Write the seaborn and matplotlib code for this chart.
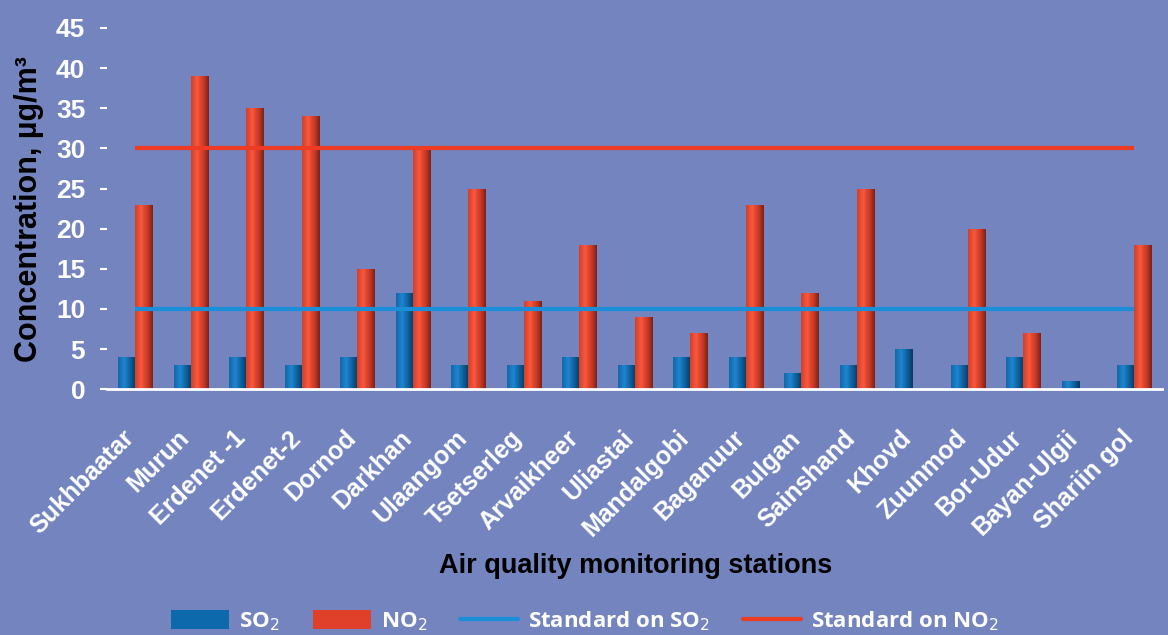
import numpy as np
import pandas as pd
import matplotlib
matplotlib.use("Agg")
import matplotlib.pyplot as plt
import seaborn as sns
from matplotlib.patches import Patch
from matplotlib.lines import Line2D

stations = ["Sukhbaatar", "Murun", "Erdenet -1", "Erdenet-2", "Dornod", "Darkhan",
            "Ulaangom", "Tsetserleg", "Arvaikheer", "Uliastai", "Mandalgobi",
            "Baganuur", "Bulgan", "Sainshand", "Khovd", "Zuunmod", "Bor-Udur",
            "Bayan-Ulgii", "Shariin gol"]
so2 = [4, 3, 4, 3, 4, 12, 3, 3, 4, 3, 4, 4, 2, 3, 5, 3, 4, 1, 3]
no2 = [23, 39, 35, 34, 15, 30, 25, 11, 18, 9, 7, 23, 12, 25, 0, 20, 7, 0, 18]
so2_standard = 10
no2_standard = 30
y_ticks = [0, 5, 10, 15, 20, 25, 30, 35, 40, 45]

BG = "#7484BF"
SO2_COLOR = "#0E69AC"
NO2_COLOR = "#E0402A"
SO2_LINE = "#1A8FD8"
NO2_LINE = "#EE3B24"

df = pd.DataFrame({
    "station": stations * 2,
    "value": so2 + no2,
    "pollutant": ["SO2"] * len(stations) + ["NO2"] * len(stations),
})

sns.set_theme(style="white")
plt.rcParams["font.family"] = ["Liberation Sans", "DejaVu Sans"]

fig = plt.figure(figsize=(11.68, 6.35), dpi=100, facecolor=BG)
ax = fig.add_axes([0.092, 0.387, 0.903, 0.569])
ax.set_facecolor(BG)

sns.barplot(data=df, x="station", y="value", hue="pollutant",
            palette={"SO2": SO2_COLOR, "NO2": NO2_COLOR},
            width=0.62, gap=0, saturation=1, legend=False, ax=ax,
            linewidth=0)


def shade(color):
    """Horizontal light-to-dark ramp giving bars a rounded look."""
    c = np.array(matplotlib.colors.to_rgb(color))
    t = np.linspace(0, 1, 64)
    light = np.clip(c * 1.15 + 0.05, 0, 1)
    dark = c * 0.55
    prof = np.where(t < 0.35, 0.6 + t / 0.35 * 0.4, 1 - (t - 0.35) / 0.65)
    rows = []
    for p in prof:
        rows.append(dark + (light - dark) * p if p > 0.6 else dark + (c - dark) * p / 0.6)
    return np.array(rows)[None, :, :]


for bar in list(ax.patches):
    h = bar.get_height()
    if h <= 0:
        continue
    x0 = bar.get_x()
    w = bar.get_width()
    img = shade(bar.get_facecolor())
    im = ax.imshow(img, extent=[x0, x0 + w, 0, h], aspect="auto",
                   zorder=bar.get_zorder() + 0.1, interpolation="bilinear")
    im.set_clip_path(bar)

n = len(stations)
ax.hlines(so2_standard, 0, n - 1, color=SO2_LINE, linewidth=3, zorder=5)
ax.hlines(no2_standard, 0, n - 1, color=NO2_LINE, linewidth=3, zorder=5)

ax.set_xlim(-0.5, n - 0.5)
ax.set_ylim(0, 45)
ax.set_yticks(y_ticks)
ax.set_yticklabels([str(v) for v in y_ticks], color="white", fontsize=19,
                   fontweight="bold")
ax.tick_params(axis="y", left=True, length=5, width=1.5, color="white", pad=11)
ax.tick_params(axis="x", bottom=False, pad=30)
ax.set_xticks(range(n))
ax.set_xticklabels(stations, rotation=45, ha="right", va="baseline",
                   rotation_mode="anchor", color="white", fontsize=18,
                   fontweight="bold")

for s in ["top", "right", "left"]:
    ax.spines[s].set_visible(False)
ax.spines["bottom"].set_color("white")
ax.spines["bottom"].set_linewidth(2)

ax.set_ylabel("Concentration, µg/m³", fontsize=22, fontweight="bold",
              color="black")
ax.yaxis.set_label_coords(-0.06, 0.5)
ax.set_xlabel("")
fig.text(0.544, 0.108, "Air quality monitoring stations", ha="center",
         va="center", fontsize=19.5, fontweight="bold", color="black")

handles = [
    Patch(facecolor=SO2_COLOR, edgecolor="none"),
    Patch(facecolor=NO2_COLOR, edgecolor="none"),
    Line2D([0], [0], color=SO2_LINE, linewidth=3),
    Line2D([0], [0], color=NO2_LINE, linewidth=3),
]
labels = ["SO$_2$", "NO$_2$", "Standard on SO$_2$", "Standard on NO$_2$"]
leg = fig.legend(handles, labels, loc="center", bbox_to_anchor=(0.501, 0.022),
                 ncol=4, frameon=False, handlelength=2.6, handleheight=0.9,
                 columnspacing=1.5, handletextpad=0.45,
                 prop={"family": "Open Sans", "weight": "bold", "size": 16})
for t in leg.get_texts():
    t.set_color("white")

fig.savefig("out.png", dpi=100, facecolor=BG)
